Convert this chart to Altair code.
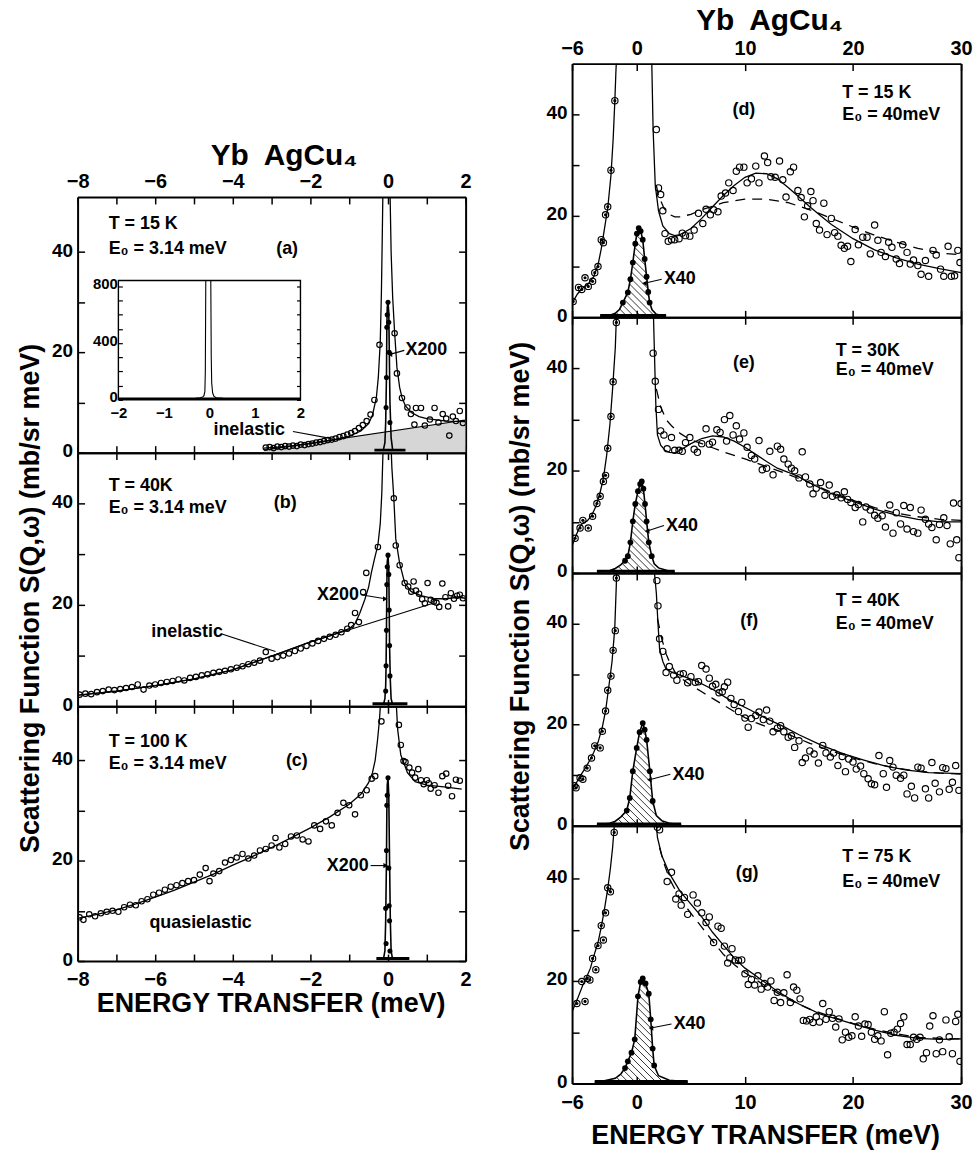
import altair as alt
import numpy as np
import pandas as pd

FONT = "Liberation Sans"

# ---------------- tick values ----------------
LX_TICKS = [-8, -7, -6, -5, -4, -3, -2, -1, 0, 1, 2]
RX_TICKS = [-6, 0, 10, 20, 30]
Y_TICKS = [0, 10, 20, 30, 40]
INSET_X_TICKS = [-2, -1, 0, 1, 2]
INSET_Y_TICKS = [0, 100, 200, 300, 400, 500, 600, 700, 800]

# ---------------- panel (a)  T=15K, E0=3.14 meV ----------------
a_fit_x = [-3.2, -2.5, -2.0, -1.5, -1.0, -0.7, -0.5, -0.4, -0.3, -0.25, -0.2, -0.17, -0.15, -0.13,
           0.05, 0.08, 0.12, 0.17, 0.23, 0.3, 0.36, 0.45, 0.6, 0.8, 1.0, 1.5, 2.0]
a_fit_y = [0.9, 1.3, 1.8, 2.4, 3.3, 4.3, 5.8, 7.5, 11, 15, 22, 32, 42, 53,
           53, 40, 31, 24, 17, 13, 11, 9.3, 8.0, 7.2, 6.8, 6.3, 6.2]
a_inel_x = [-3.2, 2.0]
a_inel_y = [0.5, 6.5]
a_cx = [-3.15, -3.05, -2.95, -2.85, -2.75, -2.65, -2.55, -2.45, -2.35, -2.25,
        -2.15, -2.05, -1.95, -1.85, -1.75, -1.65, -1.55, -1.45, -1.35, -1.25,
        -1.15, -1.05, -0.95, -0.85, -0.75, -0.65, -0.55, -0.45, -0.35, -0.22,
        0.17, 0.23, 0.36, 0.5, 0.59, 0.68, 0.72, 0.85, 0.95, 1.08,
        1.2, 1.3, 1.41, 1.5, 1.58, 1.67, 1.75, 1.85, 1.93]
a_cy = [1.0, 1.1, 0.9, 1.2, 1.1, 1.3, 1.2, 1.4, 1.3, 1.6,
        1.5, 1.7, 1.8, 2.0, 2.1, 2.3, 2.5, 2.6, 2.8, 3.1,
        3.3, 3.6, 3.9, 4.3, 4.9, 5.5, 6.3, 7.6, 10.5, 21.5,
        23.8, 15.8, 10.9, 9.0, 7.7, 5.6, 8.9, 8.9, 5.4, 6.6,
        8.9, 6.0, 7.7, 6.8, 3.4, 7.2, 6.3, 8.3, 5.9]
a_sp_x = [-0.12, -0.08, -0.06, -0.04, -0.03, -0.02, 0.0, 0.02, 0.03, 0.05, 0.08, 0.12]
a_sp_y = [0.5, 2, 6, 15, 25, 29, 30, 28, 22, 10, 3, 0.5]
a_sd_x = [-0.05, -0.04, -0.03, -0.02, 0.0, 0.02, 0.03, 0.05]
a_sd_y = [9, 15, 25, 27.5, 30, 26, 20, 6]
a_base_x = [-0.35, 0.45]
a_base_y = [0.5, 0.5]
# inset of (a)
in_x = [-2, -1.5, -1, -0.5, -0.3, -0.2, -0.15, -0.12, -0.1, -0.09, -0.08,
        0.03, 0.04, 0.05, 0.07, 0.1, 0.15, 0.3, 0.5, 1, 1.5, 2]
in_y = [8, 8, 9, 10, 12, 15, 20, 30, 60, 200, 840,
        840, 300, 120, 50, 25, 15, 12, 10, 9, 8, 8]

# ---------------- panel (b)  T=40K ----------------
b_fit_x = [-8, -7, -6, -5, -4, -3, -2, -1.5, -1.0, -0.85, -0.73, -0.6, -0.5, -0.43, -0.35, -0.26,
           -0.2, -0.16, -0.13, -0.12,
           0.07, 0.1, 0.15, 0.2, 0.3, 0.43, 0.6, 0.85, 1.2, 1.5, 1.8, 2.0]
b_fit_y = [2.2, 3.0, 4.1, 5.4, 7.2, 9.9, 12.7, 13.9, 15.3, 16.3, 18.3, 21, 23.5, 26.3, 29, 31.8,
           36, 42, 50, 53,
           53, 47, 41, 33, 28.2, 24.3, 22.6, 21.8, 21.2, 21.2, 21.5, 21.3]
b_inel_x = [-8, -7, -6, -5, -4, -3, -2, -1, 0, 1.2]
b_inel_y = [2.2, 3.0, 4.1, 5.4, 7.2, 9.9, 12.7, 15.1, 17.5, 20.4]
b_cx = [-7.95, -7.8, -7.65, -7.5, -7.35, -7.2, -7.05, -6.9, -6.75, -6.6,
        -6.45, -6.3, -6.15, -6.0, -5.85, -5.7, -5.55, -5.4, -5.25, -5.1,
        -4.95, -4.8, -4.65, -4.5, -4.35, -4.2, -4.05, -3.9, -3.75, -3.6,
        -3.45, -3.3, -3.15, -3.0, -2.85, -2.7, -2.55, -2.4, -2.25, -2.1,
        -1.95, -1.8, -1.65, -1.5, -1.35, -1.2, -1.05, -0.95, -0.85, -0.75,
        -0.64, -0.56, -0.26,
        0.15, 0.2, 0.3, 0.43, 0.52, 0.6, 0.66, 0.72, 0.8, 0.88,
        0.95, 1.02, 1.1, 1.18, 1.25, 1.32, 1.4, 1.48, 1.55, 1.62,
        1.7, 1.78, 1.85, 1.93]
b_cy = [2.3, 2.5, 2.4, 2.8, 3.0, 3.3, 3.2, 3.4, 3.6, 3.8,
        4.3, 3.3, 4.1, 4.3, 4.6, 4.8, 5.0, 5.3, 5.1, 5.6,
        5.8, 6.1, 6.3, 6.6, 6.8, 7.0, 7.3, 7.6, 7.9, 8.3,
        8.6, 9.0, 10.7, 9.4, 9.7, 10.0, 10.4, 10.9, 11.4, 11.9,
        12.4, 12.9, 13.3, 13.7, 14.1, 14.6, 15.3, 16.0, 18.4, 16.6,
        22.5, 26.3, 31.4,
        41, 31.7, 27.8, 24.3, 23.6, 22.6, 24.6, 22.8, 22.2, 21.1,
        20.3, 24.3, 21.0, 20.6, 20.4, 19.6, 24.2, 21.5, 19.7, 22.3,
        21.2, 21.8, 22.0, 21.3]
b_sp_x = [-0.12, -0.08, -0.06, -0.05, -0.04, -0.03, -0.02, 0.0, 0.02, 0.03, 0.04, 0.06, 0.08, 0.12]
b_sp_y = [0.3, 1.5, 4, 8, 15, 24, 28.5, 29.8, 27, 20, 12, 5, 1.5, 0.3]
b_sd_x = [-0.06, -0.05, -0.04, -0.03, -0.02, 0.0, 0.02, 0.03, 0.04, 0.05]
b_sd_y = [3, 8, 15, 24, 27.5, 29.8, 26, 19, 12, 6]
b_base_x = [-0.4, 0.5]
b_base_y = [0.5, 0.5]

# ---------------- panel (c)  T=100K ----------------
c_fit_x = [-8, -7.5, -7, -6.5, -6, -5.5, -5, -4.5, -4, -3.5, -3, -2.5, -2, -1.5, -1, -0.7, -0.5,
           -0.4, -0.33, -0.27, -0.22, -0.18,
           0.2, 0.25, 0.33, 0.4, 0.5, 0.7, 1.0, 1.5, 1.9]
c_fit_y = [8.5, 9.3, 10.2, 11.4, 12.7, 14.1, 15.7, 17.3, 19.1, 20.8, 22.6, 24.5, 26.5, 28.7, 31.2, 33.2, 35.5,
           37.5, 40, 44, 48, 53,
           53, 46, 41, 39.6, 37.5, 35.7, 35.0, 34.6, 34.2]
c_cx = [-7.95, -7.85, -7.7, -7.55, -7.4, -7.25, -7.1, -6.95, -6.8, -6.65,
        -6.5, -6.35, -6.2, -6.05, -5.9, -5.75, -5.6, -5.45, -5.3, -5.15,
        -5.0, -4.85, -4.7, -4.6, -4.5, -4.35, -4.2, -4.05, -3.9, -3.75,
        -3.6, -3.45, -3.3, -3.15, -3.0, -2.9, -2.8, -2.65, -2.5, -2.35,
        -2.2, -2.05, -1.9, -1.75, -1.6, -1.45, -1.3, -1.15, -1.0, -0.85,
        -0.7, -0.55, -0.42, -0.33, -0.17,
        0.28, 0.33, 0.4, 0.45, 0.55, 0.62, 0.7, 0.78, 0.85, 0.92,
        1.0, 1.05, 1.1, 1.2, 1.3, 1.4, 1.5, 1.55, 1.65, 1.75, 1.85]
c_cy = [8.7, 8.2, 9.3, 8.9, 9.5, 9.8, 10.0, 9.8, 10.7, 11.2,
        11.1, 11.9, 12.3, 13.2, 13.6, 14.2, 14.8, 15.1, 15.5, 15.9,
        16.1, 17.2, 18.5, 15.9, 17.4, 17.9, 19.6, 20.1, 20.6, 21.3,
        20.4, 21.0, 22.0, 22.3, 23.0, 24.5, 22.6, 23.3, 24.8, 25.0,
        24.2, 23.8, 27.0, 26.3, 27.8, 27.0, 29.5, 31.5, 31.0, 29.2,
        33.0, 34.0, 36.3, 36.8, 47.7,
        47, 43, 39.8, 39.6, 38.5, 37.5, 36.5, 38.2, 36.0, 35.2,
        36.0, 35.4, 34.3, 35.0, 33.5, 36.8, 37.3, 34.9, 32.8, 36.1, 35.9]
c_sp_x = [-0.12, -0.08, -0.06, -0.04, -0.03, -0.02, 0.0, 0.02, 0.04, 0.06, 0.08, 0.12]
c_sp_y = [0.3, 2, 8, 20, 30, 35, 36.5, 33, 20, 8, 2, 0.3]
c_sd_x = [-0.06, -0.05, -0.04, -0.03, -0.02, 0.0, 0.02, 0.03, 0.04, 0.05]
c_sd_y = [10.5, 3.5, 22, 31, 33, 36.5, 18.5, 11, 8, 2]
c_base_x = [-0.3, 0.55]
c_base_y = [0.5, 0.5]

# ---------------- panel (d)  T=15K, E0=40 meV ----------------
d_fit_x = [-6, -5.5, -5, -4.5, -4, -3.6, -3.3, -3.0, -2.7, -2.4, -2.2, -2.04, -1.95, -1.85,
           1.35, 1.5, 1.7, 2.0, 2.4, 3.0, 3.5, 4.0, 5, 6, 7, 8, 9, 10, 11, 12, 13, 14, 15, 16, 17, 18,
           20, 22, 24, 26, 28, 30]
d_fit_y = [2.8, 4.6, 5.8, 6.6, 8, 10.3, 13.5, 17.5, 21.5, 28, 35, 42.7, 48, 53,
           53, 37, 26, 21, 18, 16.5, 16.1, 16.3, 17.5, 19.5, 21.8, 24, 26, 27.6, 28.4, 28.3, 27.3, 25.6,
           23.7, 21.8, 20.0, 18.3, 15.5, 13.3, 11.7, 10.5, 9.6, 8.8]
d_dash_x = [1.8, 2, 2.5, 3, 3.5, 4, 5, 6, 8, 10, 12, 14, 16, 18, 20, 22, 24, 26, 28, 30]
d_dash_y = [26, 24, 21.5, 20.3, 19.8, 19.8, 20.3, 21.2, 22.6, 23.3, 23.3, 22.6, 21.2, 19.5, 17.8, 16.2,
            14.8, 13.6, 12.7, 12.3]
d_bx = [-5.9, -5.4, -5.1, -4.8, -4.5, -4.1, -3.9, -3.6, -3.3, -3.1, -2.9, -2.7, -2.4, -2.04]
d_by = [3.1, 5.9, 5.5, 7.8, 6.1, 7.1, 8.8, 10, 15.3, 14.7, 20.2, 21.8, 29, 42.7]
d_cx = [1.8, 2.0, 2.2, 2.4, 2.6, 2.9, 3.2, 3.5, 3.9, 4.2,
        4.5, 4.9, 5.3, 5.7, 6.1, 6.4, 6.8, 7.1, 7.5, 7.8,
        8.2, 8.5, 8.9, 9.2, 9.5, 9.9, 10.2, 10.6, 11.0, 11.3,
        11.8, 12.1, 12.4, 12.8, 13.2, 13.5, 13.8, 14.2, 14.5, 14.9,
        15.2, 15.5, 15.8, 16.1, 16.3, 16.6, 16.9, 17.3, 17.6, 18.0,
        18.3, 18.6, 18.9, 19.2, 19.5, 19.8, 20.2, 20.5, 20.9, 21.3,
        21.6, 22.0, 22.3, 22.6, 23.0, 23.3, 23.6, 24.0, 24.3, 24.6,
        25.0, 25.3, 25.6, 26.0, 26.3, 26.7, 27.0, 27.4, 27.7, 28.1,
        28.4, 28.8, 29.1, 29.4, 29.7, 29.9]
d_cy = [37, 25.5, 24.2, 21, 16.5, 15, 15.3, 15.3, 15.5, 16.6,
        16.1, 16, 17.2, 20.5, 18.5, 21.3, 20.2, 21.2, 20.8, 23.9,
        24.5, 26.5, 25, 28.8, 29.6, 29.6, 26.5, 27.3, 29.8, 26.5,
        31.8, 30.5, 27.7, 27.6, 30.8, 27.1, 23.7, 28.7, 29.6, 25,
        23.6, 19.8, 22, 24.8, 23, 18.5, 17.2, 22.5, 16.3, 19.5,
        16.7, 16, 14.2, 13.6, 14, 11, 17.3, 14.3, 15.8, 15.8,
        12.5, 18.2, 15.2, 12.8, 12, 14.8, 13.8, 11.5, 10.6, 14.3,
        12.8, 10.5, 11.3, 10.2, 8.5, 11.2, 8.1, 13.2, 12.3, 9.5,
        8.1, 14, 8.1, 8.2, 13.2, 10.8]
d_pk_x = [-3.4, -2.5, -2, -1.6, -1.3, -0.84, -0.6, -0.38, -0.15, 0.0, 0.17, 0.35, 0.54, 0.72, 0.9,
          1.05, 1.18, 1.4, 1.8, 2.7]
d_pk_y = [0.2, 0.4, 0.8, 1.6, 2.9, 4.9, 7.5, 10.8, 14.5, 16.5, 17.6, 17, 15.3, 11.5, 8, 5, 2.9, 1.5, 0.6, 0.2]

# ---------------- panel (e)  T=30K ----------------
e_fit_x = [-6, -5.7, -5.3, -5.0, -4.6, -4.2, -3.8, -3.4, -3.1, -2.8, -2.5, -2.25, -2.0, -1.85,
           1.5, 1.6, 1.75, 1.9, 2.2, 2.6, 3, 3.5, 4, 5, 6, 7, 8, 9, 10, 11, 12, 13, 14, 15, 16, 18, 20,
           22, 24, 26, 28, 30]
e_fit_y = [5.3, 7, 9, 9.8, 10.2, 11.2, 13, 15.8, 18.5, 23, 29, 36, 44, 53,
           53, 45, 33, 27, 25, 24, 23.6, 23.5, 24, 25.3, 26.3, 26.8, 26.6, 25.8, 24.6, 23.2, 21.8, 20.5,
           19.7, 18.8, 17.6, 15.5, 14, 12.5, 11.3, 10.5, 10, 10]
e_dash_x = [1.8, 2.2, 2.7, 3.2, 4, 5, 6, 7, 8, 9, 10, 12, 14, 16, 18, 20, 22, 24, 26, 28, 30]
e_dash_y = [36, 32.5, 30, 28.8, 27.3, 26, 25.3, 24.5, 23.7, 23, 22.3, 20.8, 19.3, 17.6, 15.8, 14.2,
            12.8, 11.7, 11, 10.5, 10.3]
e_bx = [-5.72, -5.26, -5.0, -4.5, -4.1, -3.7, -3.4, -3.1, -2.9, -2.7, -2.4, -2.2, -1.9]
e_by = [6.8, 8.8, 10.3, 8.8, 11.1, 13.6, 15, 17.9, 19.1, 24.4, 30.6, 37.4, 49]
e_cx = [1.5, 1.7, 2.0, 2.2, 2.5, 2.8, 3.2, 3.5, 3.9, 4.2,
        4.5, 4.9, 5.3, 5.6, 6.0, 6.4, 6.7, 7.0, 7.4, 7.7,
        8.1, 8.3, 8.6, 8.9, 9.2, 9.5, 9.9, 10.2, 10.6, 10.9,
        11.3, 11.6, 12.0, 12.3, 12.6, 13.0, 13.3, 13.6, 14.0, 14.3,
        14.6, 15.0, 15.3, 15.6, 16.0, 16.3, 16.6, 17.0, 17.4, 17.8,
        18.1, 18.5, 18.9, 19.2, 19.5, 19.8, 20.2, 20.5, 20.9, 21.2,
        21.6, 22.0, 22.3, 22.7, 23.0, 23.4, 23.7, 24.0, 24.4, 24.7,
        25.0, 25.3, 25.6, 26.0, 26.3, 26.7, 27.0, 27.3, 27.7, 28.0,
        28.4, 28.7, 29.0, 29.3, 29.6, 29.8, 30.0]
e_cy = [43, 37.5, 32, 27.8, 27, 24.3, 26.5, 24, 24, 23.8,
        25.5, 26.5, 24.2, 23.6, 25.3, 28.2, 25.2, 25.6, 28, 27.5,
        30, 25.8, 30.8, 27, 28.8, 26.2, 27.4, 24.6, 23, 22.3,
        25.9, 20.2, 20.5, 23.8, 19.2, 24.8, 24.2, 22.3, 21.3, 20.5,
        20, 18.6, 23.7, 18.8, 17.4, 15.5, 16.6, 17.7, 15.2, 17.2,
        15, 15.3, 14.7, 15.9, 14.4, 13.8, 12.8, 13.4, 10, 12.9,
        12.3, 11.3, 10.7, 11.2, 9, 13.3, 7.8, 11.8, 9.6, 13.2,
        8.6, 12.8, 8.1, 7.8, 12.3, 10.5, 9.6, 8.9, 6.5, 9.5,
        10.8, 9.3, 5.7, 13.7, 6.5, 3, 13.6]
e_pk_x = [-3.7, -2.5, -2, -1.5, -1.1, -0.84, -0.6, -0.38, -0.15, 0.1, 0.3, 0.45, 0.6, 0.75, 0.9, 1.1,
          1.37, 1.6, 2, 2.8, 3.5]
e_pk_y = [0.2, 0.5, 0.9, 1.6, 2.4, 3.3, 6, 10.1, 13.5, 16, 17.4, 17.9, 16.5, 13.5, 10.1, 6, 3.3, 1.8, 1,
          0.5, 0.2]

# ---------------- panel (f)  T=40K ----------------
f_fit_x = [-6, -5.6, -5.2, -4.8, -4.4, -4.0, -3.6, -3.2, -2.9, -2.6, -2.3, -2.05, -1.9, -1.85,
           1.5, 1.8, 1.95, 2.1, 2.4, 2.7, 3.3, 4, 5, 5.5, 7, 8.5, 10.4, 12, 13.5, 15, 17, 19, 21, 23, 25,
           27, 30]
f_fit_y = [7.2, 8.5, 10, 11.3, 12.8, 14.5, 16.5, 19.5, 22.7, 27.5, 32.5, 39, 48, 53,
           53, 46, 40, 35, 32.5, 31, 30.3, 29.8, 29, 28.6, 27, 25, 23, 21.2, 19.7, 18, 16, 14.3, 13, 11.8,
           11, 10.5, 10.3]
f_dash_x = [1.9, 2.3, 2.7, 3, 3.5, 4, 5, 6, 7, 8, 9, 10, 11, 12, 13, 14, 16, 18, 20, 22, 24, 26, 28, 30]
f_dash_y = [41, 37, 34, 32.5, 30.5, 29.3, 27.8, 26.5, 25.2, 23.9, 22.6, 21.4, 20.4, 19.6, 18.9, 18.1,
            16.3, 14.8, 13.4, 12.3, 11.4, 10.8, 10.4, 10.2]
f_bx = [-5.8, -5.63, -5.26, -5.0, -4.6, -4.2, -3.9, -3.4, -3.2, -2.9, -2.7, -2.4, -2.2, -2.0, -1.9]
f_by = [7.9, 7.5, 9.5, 9.2, 11.4, 13.4, 15.8, 15.4, 18.7, 22.7, 26.8, 29.6, 34.7, 38.6, 49]
f_cx = [1.85, 1.95, 2.1, 2.4, 2.7, 3.0, 3.4, 3.7, 4.0, 4.3,
        4.7, 5.0, 5.4, 5.7, 6.0, 6.4, 6.7, 7.0, 7.3, 7.6,
        7.9, 8.1, 8.4, 8.7, 9.0, 9.4, 9.7, 10.0, 10.3, 10.6,
        11.0, 11.3, 11.7, 12.0, 12.3, 12.6, 13.0, 13.3, 13.6, 14.0,
        14.3, 14.6, 15.0, 15.3, 15.6, 16.0, 16.4, 16.8, 17.2, 17.5,
        17.9, 18.2, 18.6, 19.0, 19.3, 19.6, 20.0, 20.3, 20.7, 21.0,
        21.4, 21.7, 22.0, 22.4, 22.8, 23.1, 23.4, 23.7, 24.0, 24.4,
        24.7, 25.0, 25.4, 25.7, 26.0, 26.3, 26.7, 27.0, 27.3, 27.6,
        28.0, 28.3, 28.6, 28.9, 29.2, 29.5, 29.8]
f_cy = [48.5, 43.5, 37, 34.5, 30.3, 31.5, 29.8, 28.8, 30, 30.1,
        28.3, 29.5, 28.4, 28.5, 31.7, 31, 29.2, 27.6, 28, 26.3,
        26.5, 27.5, 28.4, 25.2, 24, 22.6, 24.4, 21.3, 19.5, 21.2,
        21.8, 22.5, 21, 22.9, 20.7, 18.6, 19.3, 19.8, 18.6, 17.5,
        17.8, 15.5, 16.8, 12.5, 13.4, 14.8, 14.2, 12.4, 15.9, 14.4,
        13.6, 14.4, 11.9, 13.7, 10.7, 13.2, 12.6, 11.2, 11.8, 10.3,
        9.3, 8.3, 8.1, 13.9, 10.3, 7.6, 12.9, 11.6, 10, 9.4,
        10, 6.3, 7.8, 5.5, 11.6, 11.4, 7.3, 5.5, 12.5, 8.4,
        6.7, 11.5, 11.3, 7.2, 8.6, 11.9, 7.0]
f_pk_x = [-3.7, -2.5, -2, -1.5, -0.94, -0.66, -0.38, -0.02, 0.25, 0.54, 0.72, 0.9, 1.2, 1.46, 1.8, 2.3,
          3, 4.1]
f_pk_y = [0.2, 0.5, 0.9, 1.7, 3, 5.5, 10.8, 15.4, 18.5, 20.3, 19, 17, 10.8, 4.9, 2, 1, 0.5, 0.2]

# ---------------- panel (g)  T=75K ----------------
g_fit_x = [-6, -5.5, -5.0, -4.6, -4.3, -4.0, -3.6, -3.3, -3.0, -2.7, -2.45, -2.25, -2.1, -2.0,
           1.7, 1.9, 2.3, 3, 4, 5, 6, 7, 8, 9, 10, 11, 12, 13, 14, 15, 16, 17, 18, 20, 22, 24, 26, 28, 30]
g_fit_y = [14, 16.5, 19.2, 21, 22.5, 24.8, 27.5, 30.5, 34, 38, 42, 46, 50, 53,
           53, 48, 44.5, 41, 37.5, 35, 32.5, 29.5, 27, 24.5, 22.5, 21, 19.5, 18, 16.7, 15.5, 14.5, 13.5,
           12.9, 11.6, 10.4, 9.4, 8.8, 8.6, 8.7]
g_dash_x = [2.1, 2.5, 3, 4, 5, 6, 7, 8, 9, 10, 12, 14, 16, 18, 20, 22, 24, 26, 28, 30]
g_dash_y = [46, 43, 40, 36, 33.2, 30.5, 27.8, 25.2, 23.2, 21.6, 18.9, 16.4, 14.5, 13, 11.7, 10.6, 9.7,
            9.0, 8.8, 8.7]
g_bx = [-5.55, -5.1, -4.8, -4.6, -4.35, -4.1, -3.8, -3.6, -3.3, -3.1, -2.9, -2.7, -2.45, -2.1]
g_by = [15.6, 19.9, 16.0, 20.5, 20.2, 24.4, 22.2, 26.9, 30.8, 28, 33.3, 38.2, 37.4, 49]
g_cx = [1.9, 2.1, 2.8, 3.2, 3.6, 3.9, 4.1, 4.4, 4.7, 5.2,
        5.6, 6.0, 6.4, 6.7, 7.1, 7.5, 7.8, 8.1, 8.4, 8.6,
        8.8, 9.1, 9.4, 9.7, 10.0, 10.3, 10.6, 10.9, 11.2, 11.5,
        11.8, 12.1, 12.4, 12.7, 13.0, 13.3, 13.6, 13.9, 14.2, 14.5,
        14.8, 15.1, 15.4, 15.7, 16.0, 16.3, 16.6, 16.9, 17.2, 17.5,
        17.8, 18.1, 18.4, 18.7, 19.0, 19.3, 19.6, 19.9, 20.2, 20.5,
        20.8, 21.1, 21.4, 21.7, 22.0, 22.3, 22.6, 22.9, 23.2, 23.5,
        23.8, 24.1, 24.4, 24.7, 25.0, 25.3, 25.6, 25.9, 26.2, 26.5,
        26.8, 27.1, 27.4, 27.7, 28.0, 28.3, 28.6, 28.9, 29.2, 29.5,
        29.7, 29.9]
g_cy = [50, 49.5, 39.4, 41.2, 36, 37, 34.8, 36.3, 33, 36.8,
        35.2, 33.3, 31.4, 32.5, 27.5, 30.7, 30.3, 26.8, 23.5, 24.5,
        26.3, 24.1, 24, 24.1, 21.4, 19.3, 20.3, 19.2, 21, 18.4,
        19.5, 18.8, 20, 16.2, 17.8, 15.8, 17.7, 21.2, 15.8, 18.8,
        18.2, 16.5, 12.3, 12.2, 12.5, 11.9, 13, 12, 15.6, 12.5,
        14, 12.7, 11, 12.6, 8.5, 10, 9, 9.3, 13, 11.2,
        9.2, 11.6, 11.5, 10, 8.6, 9.3, 8.3, 14, 5.6, 9.8,
        10, 10.6, 11.7, 13, 7.6, 7.6, 9, 8.6, 9, 4.8,
        6, 11.2, 13.2, 5.8, 8.5, 6.2, 12.4, 9.1, 5.8, 12.1,
        13.5, 4.3]
g_pk_x = [-3.9, -3, -2, -1.5, -1.1, -0.84, -0.5, -0.2, 0.1, 0.35, 0.54, 0.8, 1.1, 1.28, 1.46, 1.6, 2,
          3, 4.7]
g_pk_y = [0.3, 0.5, 1, 1.8, 3, 4.3, 6, 8.6, 17, 19.8, 20.5, 19.5, 17.5, 12.5, 6.8, 3.5, 1.5, 0.6, 0.3]


# ---------------- helpers ----------------
def D(x, y):
    return pd.DataFrame({"x": x, "y": y})


def sc(dom, rng=None):
    kw = dict(domain=dom, nice=False, zero=False)
    if rng is not None:
        kw["range"] = rng
    return alt.Scale(**kw)


def XY(xs, ys):
    return dict(x=alt.X("x:Q", scale=xs, axis=None), y=alt.Y("y:Q", scale=ys, axis=None))


def hatch(px, py, xpx, ypx, step_px=7.0):
    xs = np.linspace(px[0], px[-1], 900)
    f = np.interp(xs, px, py)
    s = -xpx / ypx
    step = step_px / xpx
    cs = np.arange(px[0] + step, px[-1] + max(py) / (-s) + step, step)
    ids, hx, hy = [], [], []
    for k, c in enumerate(cs):
        yl = s * (xs - c)
        idx = np.flatnonzero((yl >= 0) & (yl <= f))
        if idx.size < 2:
            continue
        runs = np.split(idx, np.flatnonzero(np.diff(idx) != 1) + 1)
        for j, r in enumerate(runs):
            if r.size < 2:
                continue
            for i in (r[0], r[-1]):
                ids.append(f"h{k}_{j}")
                hx.append(float(xs[i]))
                hy.append(float(yl[i]))
    return pd.DataFrame({"id": ids, "x": hx, "y": hy})


def xaxis(side, orient, labels, title=None, tx=0, ty=0):
    vals = LX_TICKS if side == "L" else RX_TICKS
    expr = "datum.value % 2 === 0 ? datum.label : ''" if side == "L" else "datum.label"
    kw = dict(orient=orient, values=vals, labels=labels, labelExpr=expr, tickSize=7, offset=-7,
              domain=False, grid=False, tickColor="black", tickWidth=1.5, labelColor="black",
              labelFont=FONT, labelFontSize=20, labelFontWeight="bold",
              labelPadding=9 if orient == "bottom" else 5,
              labelFlush=False, labelOverlap=False)
    if title:
        kw.update(title=title, titleFont=FONT, titleFontSize=27 if orient == "bottom" else 30,
                  titleFontWeight="bold", titleColor="black", titleX=tx, titleY=ty,
                  titleAlign="center", titleBaseline="middle", titleAngle=0)
    else:
        kw["title"] = None
    return alt.Axis(**kw)


def yaxis(orient, labels, title=None, tx=0, ty=0, ticks=True):
    kw = dict(orient=orient, values=Y_TICKS, labels=labels, ticks=ticks,
              labelExpr="datum.value % 20 === 0 ? datum.label : ''", tickSize=7, offset=-7,
              domain=False, grid=False, tickColor="black", tickWidth=1.5, labelColor="black",
              labelFont=FONT, labelFontSize=19, labelFontWeight="bold", labelPadding=5,
              labelOffset=-2, labelFlush=False, labelOverlap=False)
    if title:
        kw.update(title=title, titleFont=FONT, titleFontSize=27, titleFontWeight="bold",
                  titleColor="black", titleX=tx, titleY=ty, titleAlign="center",
                  titleBaseline="middle", titleAngle=270)
    else:
        kw["title"] = None
    return alt.Axis(**kw)


def frame_axis(orient):
    # axis that only draws the black frame line of the panel
    return alt.Axis(orient=orient, domain=True, domainColor="black", domainWidth=2, ticks=False,
                    labels=False, grid=False, title=None, offset=0)


def inset_layers(h, W):
    ixs = sc([-2, 2], [41, 224])
    iys = sc([0, 840], [h - 53, 84])
    box = pd.DataFrame({"x": [-2], "x2": [2], "y": [0], "y2": [840]})
    common = dict(domain=False, grid=False, tickColor="black", tickWidth=1.2, labelColor="black",
                  labelFont=FONT, labelFontSize=15, labelFontWeight="bold",
                  labelFlush=False, labelOverlap=False, title=None)
    ibox = alt.Chart(box).mark_rect(fillOpacity=0, stroke="black", strokeWidth=1.4).encode(
        x=alt.X("x:Q", scale=ixs, axis=alt.Axis(orient="bottom", values=INSET_X_TICKS, offset=-53,
                                                 ticks=False, labelPadding=6, **common)),
        x2="x2:Q",
        y=alt.Y("y:Q", scale=iys, axis=alt.Axis(orient="left", values=INSET_Y_TICKS,
                                                 labelExpr="datum.value % 400 === 0 ? datum.label : ''",
                                                 offset=-45, tickSize=4, labelPadding=1, labelOffset=-3,
                                                 **common)),
        y2="y2:Q",
    )
    iright = alt.Chart(box).mark_point(opacity=0).encode(
        x=alt.X("x:Q", scale=ixs, axis=None),
        y=alt.Y("y:Q", scale=iys, axis=alt.Axis(orient="right", values=INSET_Y_TICKS, labels=False,
                                                 offset=-(W - 224) - 4, tickSize=4, **common)),
    )
    ibase = alt.Chart(D([-2, 2], [8, 8])).mark_line(color="black", strokeWidth=2.5).encode(
        x=alt.X("x:Q", scale=ixs, axis=None), y=alt.Y("y:Q", scale=iys, axis=None))
    ipk = alt.Chart(D(in_x, in_y)).mark_line(color="black", strokeWidth=1.1).encode(
        x=alt.X("x:Q", scale=ixs, axis=None), y=alt.Y("y:Q", scale=iys, axis=None))
    return [ibox, iright, ibase, ipk]


def panel(P):
    side = P["side"]
    xdom = [-8, 2] if side == "L" else [-6, 30]
    W = 390 if side == "L" else 391
    xpx = W / (xdom[1] - xdom[0])
    ypx = P["h"] / P["ymax"]
    xs = sc(xdom)
    ys = sc([0, P["ymax"]])
    frame = D(xdom, [0, P["ymax"]])
    csize = 30 if side == "L" else 40

    ax1 = alt.Chart(frame).mark_point(opacity=0).encode(
        x=alt.X("x:Q", scale=xs, axis=xaxis(side, "top", P.get("top_labels", False),
                                             P.get("top_title"), *P.get("top_pos", (0, 0)))),
        y=alt.Y("y:Q", scale=ys, axis=yaxis("left", True, P.get("ytitle"), *P.get("ytitle_pos", (0, 0)))),
    )
    ax2 = alt.Chart(frame).mark_point(opacity=0).encode(
        x=alt.X("x:Q", scale=xs, axis=xaxis(side, "bottom", P.get("bot_labels", False),
                                             P.get("bot_title"), *P.get("bot_pos", (0, 0)))),
        y=alt.Y("y:Q", scale=ys, axis=yaxis("right", False, ticks=(side == "L"))),
    )
    ax3 = alt.Chart(frame).mark_point(opacity=0).encode(
        x=alt.X("x:Q", scale=xs, axis=frame_axis("top")),
        y=alt.Y("y:Q", scale=ys, axis=frame_axis("left")),
    )
    ax4 = alt.Chart(frame).mark_point(opacity=0).encode(
        x=alt.X("x:Q", scale=xs, axis=frame_axis("bottom")),
        y=alt.Y("y:Q", scale=ys, axis=frame_axis("right")),
    )
    L = [ax1, ax2, ax3, ax4]
    if "area" in P:
        L.append(alt.Chart(D(*P["area"])).mark_area(color="#d6d6d6", clip=True).encode(**XY(xs, ys)))
    if "peak" in P:
        px, py = P["peak"]
        L.append(alt.Chart(hatch(px, py, xpx, ypx)).mark_line(color="black", strokeWidth=0.8, clip=True)
                 .encode(**XY(xs, ys), detail="id:N"))
        # thick noisy base of the elastic peak
        L.append(alt.Chart(D([px[0], px[-1]], [0.35, 0.35])).mark_line(color="black", strokeWidth=3,
                                                                         clip=True).encode(**XY(xs, ys)))
        L.append(alt.Chart(D(px, py)).mark_line(color="black", strokeWidth=1.6, clip=True).encode(**XY(xs, ys)))
        dx = [a for a, b in zip(px, py) if b > 2]
        dy = [b for b in py if b > 2]
        L.append(alt.Chart(D(dx, dy)).mark_circle(color="black", size=34, opacity=1, clip=True)
                 .encode(**XY(xs, ys)))
    if "spike" in P:
        L.append(alt.Chart(D(*P["base"])).mark_line(color="black", strokeWidth=3, clip=True)
                 .encode(**XY(xs, ys)))
        L.append(alt.Chart(D(*P["spike"])).mark_line(color="black", strokeWidth=1.6, clip=True)
                 .encode(**XY(xs, ys)))
        L.append(alt.Chart(D(*P["spikedots"])).mark_circle(color="black", size=26, opacity=1, clip=True)
                 .encode(**XY(xs, ys)))
    if "line2" in P:
        L.append(alt.Chart(D(*P["line2"])).mark_line(color="black", strokeWidth=1.1, clip=True)
                 .encode(**XY(xs, ys)))
    if "dash" in P:
        L.append(alt.Chart(D(*P["dash"])).mark_line(color="black", strokeWidth=1.3, strokeDash=[10, 7],
                                                     clip=True).encode(**XY(xs, ys)))
    L.append(alt.Chart(D(*P["fit"])).mark_line(color="black", strokeWidth=1.3, clip=True)
             .encode(**XY(xs, ys)))
    L.append(alt.Chart(D(*P["circles"])).mark_point(shape="circle", filled=False, color="black",
                                                     size=csize, strokeWidth=1.15, opacity=1, clip=True)
             .encode(**XY(xs, ys)))
    if "branch" in P:
        L.append(alt.Chart(D(*P["branch"])).mark_point(shape="circle", filled=False, color="black",
                                                        size=csize, strokeWidth=1.15, opacity=1, clip=True)
                 .encode(**XY(xs, ys)))
        L.append(alt.Chart(D(*P["branch"])).mark_circle(color="black", size=10, opacity=1, clip=True)
                 .encode(**XY(xs, ys)))
    for (x1, y1, x2, y2, shp) in P.get("arrows", []):
        adf = pd.DataFrame({"x": [x1], "y": [y1], "x2": [x2], "y2": [y2]})
        L.append(alt.Chart(adf).mark_rule(color="black", strokeWidth=1.1).encode(
            x=alt.X("x:Q", scale=xs, axis=None), y=alt.Y("y:Q", scale=ys, axis=None),
            x2="x2:Q", y2="y2:Q"))
        if shp:
            L.append(alt.Chart(D([x2], [y2])).mark_point(shape=shp, filled=True, color="black",
                                                         size=28, opacity=1).encode(**XY(xs, ys)))
    for (tx, ty, txt, al) in P["texts"]:
        tdf = pd.DataFrame({"x": [tx], "y": [ty], "t": [txt]})
        L.append(alt.Chart(tdf).mark_text(align=al, baseline="middle", font=FONT, fontSize=18,
                                          fontWeight="bold", color="black")
                 .encode(**XY(xs, ys), text="t:N"))

    if P.get("inset"):
        L.extend(inset_layers(P["h"], W))
        main = alt.layer(*L).resolve_scale(x="independent", y="independent") \
                            .resolve_axis(x="independent", y="independent")
    else:
        main = alt.layer(*L).resolve_axis(x="independent", y="independent")
    return main.properties(width=W, height=P["h"])


TITLE_TOP = "Yb\u2002AgCu\u2084"
TITLE_BOT = "ENERGY TRANSFER (meV)"
TITLE_Y = "Scattering Function S(Q,\u03c9) (mb/sr meV)"

PA = dict(side="L", h=257, ymax=51, fit=(a_fit_x, a_fit_y), line2=(a_inel_x, a_inel_y),
          area=(a_inel_x, a_inel_y), circles=(a_cx, a_cy), spike=(a_sp_x, a_sp_y),
          spikedots=(a_sd_x, a_sd_y), base=(a_base_x, a_base_y), inset=True, top_labels=True,
          top_title=TITLE_TOP, top_pos=(207, -49),
          texts=[(-7.2, 45.5, "T = 15 K", "left"), (-7.2, 40.6, "E\u2080 = 3.14 meV", "left"),
                 (-2.6, 40.6, "(a)", "center"), (0.45, 20.4, "X200", "left"),
                 (-4.5, 4.5, "inelastic", "left")],
          arrows=[(0.42, 20.4, 0.05, 19.6, "triangle-left"), (-2.45, 4.2, -1.45, 2.8, None)])
PB = dict(side="L", h=255, ymax=50, fit=(b_fit_x, b_fit_y), line2=(b_inel_x, b_inel_y),
          circles=(b_cx, b_cy), spike=(b_sp_x, b_sp_y), spikedots=(b_sd_x, b_sd_y),
          base=(b_base_x, b_base_y), ytitle=TITLE_Y, ytitle_pos=(-54, 146),
          texts=[(-7.2, 43.5, "T = 40K", "left"), (-7.2, 39, "E\u2080 = 3.14 meV", "left"),
                 (-2.65, 40, "(b)", "center"), (-0.75, 22, "X200", "right"),
                 (-6.1, 14.7, "inelastic", "left")],
          arrows=[(-0.7, 22, -0.07, 21.2, "triangle-right"), (-4.3, 14.3, -2.9, 10.8, None)])
PC = dict(side="L", h=256, ymax=50.7, fit=(c_fit_x, c_fit_y), circles=(c_cx, c_cy),
          spike=(c_sp_x, c_sp_y), spikedots=(c_sd_x, c_sd_y), base=(c_base_x, c_base_y),
          bot_labels=True, bot_title=TITLE_BOT, bot_pos=(194, 50),
          texts=[(-7.2, 43.6, "T = 100 K", "left"), (-7.2, 39.2, "E\u2080 = 3.14 meV", "left"),
                 (-2.35, 39.8, "(c)", "center"), (-0.5, 19, "X200", "right"),
                 (-6.15, 7.5, "quasielastic", "left")],
          arrows=[(-0.45, 19, -0.06, 19, "triangle-right")])
PD = dict(side="R", h=255, ymax=50, fit=(d_fit_x, d_fit_y), dash=(d_dash_x, d_dash_y),
          circles=(d_cx, d_cy), branch=(d_bx, d_by), peak=(d_pk_x, d_pk_y), top_labels=True,
          top_title=TITLE_TOP, top_pos=(198, -50),
          texts=[(19, 44.3, "T = 15 K", "left"), (19, 39.8, "E\u2080 = 40meV", "left"),
                 (9.9, 40.8, "(d)", "center"), (2.5, 7.5, "X40", "left")],
          arrows=[(2.3, 7.5, 0.7, 6.7, "triangle-left")])
PE = dict(side="R", h=257, ymax=50, fit=(e_fit_x, e_fit_y), dash=(e_dash_x, e_dash_y),
          circles=(e_cx, e_cy), branch=(e_bx, e_by), peak=(e_pk_x, e_pk_y),
          ytitle=TITLE_Y, ytitle_pos=(-59, 280),
          texts=[(18.4, 43.5, "T = 30K", "left"), (18.4, 39.6, "E\u2080 = 40meV", "left"),
                 (9.9, 41, "(e)", "center"), (2.7, 9.2, "X40", "left")],
          arrows=[(2.5, 9.3, 0.95, 8.2, "triangle-left")])
PF = dict(side="R", h=254, ymax=50, fit=(f_fit_x, f_fit_y), dash=(f_dash_x, f_dash_y),
          circles=(f_cx, f_cy), branch=(f_bx, f_by), peak=(f_pk_x, f_pk_y),
          texts=[(18.4, 44.4, "T = 40K", "left"), (18.4, 40, "E\u2080 = 40meV", "left"),
                 (10.4, 40.6, "(f)", "center"), (3.3, 10, "X40", "left")],
          arrows=[(3.1, 10.2, 1.15, 9.1, "triangle-left")])
PG = dict(side="R", h=259, ymax=50.3, fit=(g_fit_x, g_fit_y), dash=(g_dash_x, g_dash_y),
          circles=(g_cx, g_cy), branch=(g_bx, g_by), peak=(g_pk_x, g_pk_y), bot_labels=True,
          bot_title=TITLE_BOT, bot_pos=(194, 59),
          texts=[(19, 44.2, "T = 75 K", "left"), (19, 39.4, "E\u2080 = 40meV", "left"),
                 (10.2, 41, "(g)", "center"), (3.4, 11.5, "X40", "left")],
          arrows=[(3.2, 11.6, 1.3, 10.8, "triangle-left")])

spacer = alt.Chart(pd.DataFrame({"x": [0], "y": [1]})).mark_point(opacity=0, size=4).encode(
    x=alt.X("x:Q", axis=None, scale=sc([0, 1])), y=alt.Y("y:Q", axis=None, scale=sc([0, 1]))
).properties(width=390, height=134, view=alt.ViewBackground(strokeOpacity=0))

left_col = alt.vconcat(spacer, panel(PA), panel(PB), panel(PC), spacing=0, bounds="flush")
right_col = alt.vconcat(panel(PD), panel(PE), panel(PF), panel(PG), spacing=0, bounds="flush")

chart = alt.hconcat(left_col, right_col, spacing=34).properties(
    padding={"left": 16, "top": 3, "right": 2, "bottom": 2}
).configure(font=FONT).configure_view(strokeOpacity=0)

chart.save("out.html", embed_options={"renderer": "svg", "actions": False})
